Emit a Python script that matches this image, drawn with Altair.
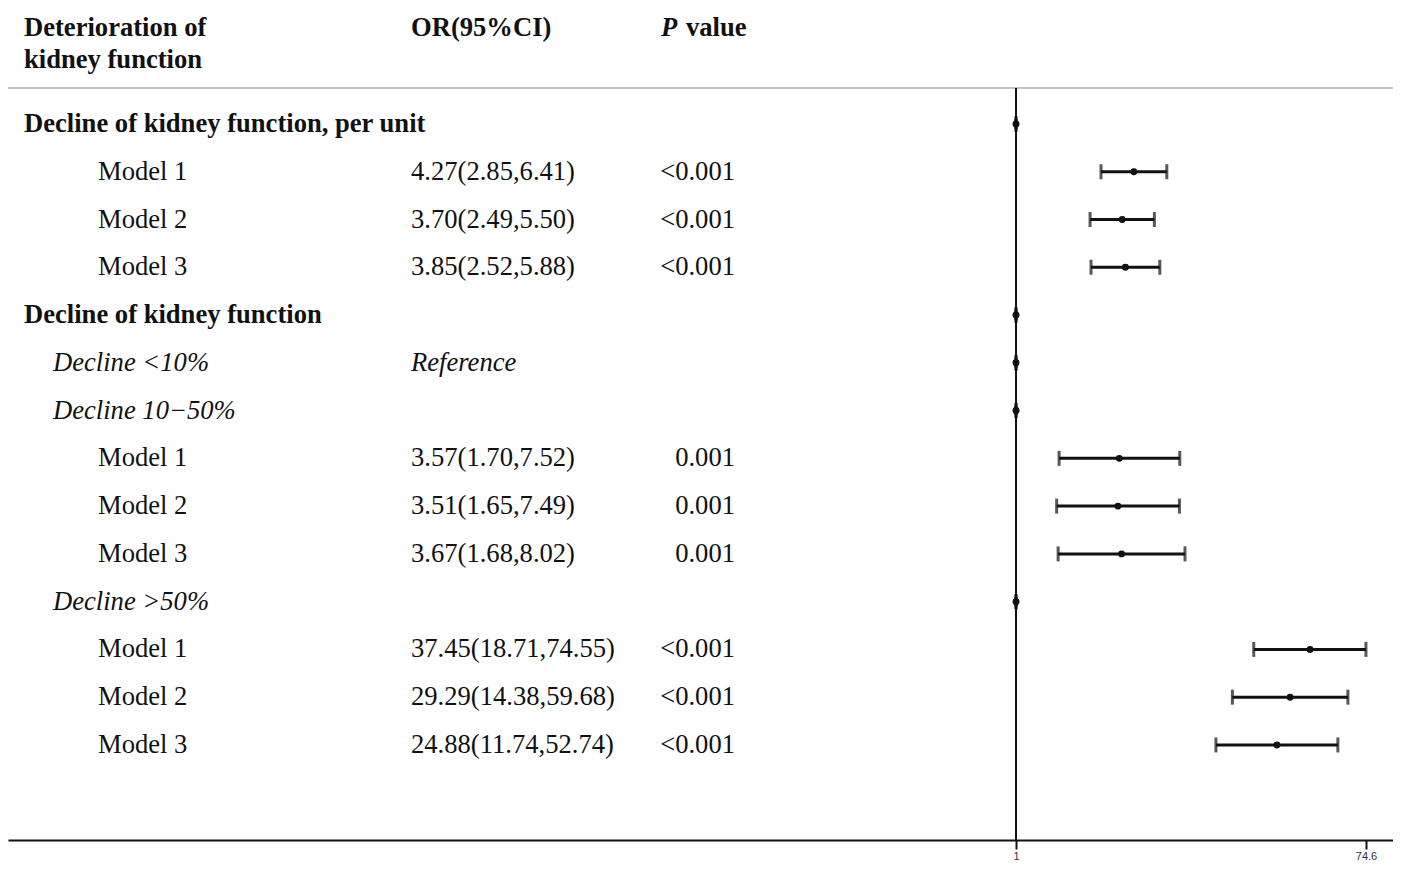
import altair as alt
import pandas as pd

# ---- data ----
labels = [
    "Decline of kidney function, per unit", "Model 1", "Model 2", "Model 3",
    "Decline of kidney function", "Decline <10%", "Decline 10\u221250%",
    "Model 1", "Model 2", "Model 3", "Decline >50%",
    "Model 1", "Model 2", "Model 3",
]
levels = [0, 2, 2, 2, 0, 1, 1, 2, 2, 2, 1, 2, 2, 2]
or_text = [
    "", "4.27(2.85,6.41)", "3.70(2.49,5.50)", "3.85(2.52,5.88)",
    "", "Reference", "",
    "3.57(1.70,7.52)", "3.51(1.65,7.49)", "3.67(1.68,8.02)",
    "", "37.45(18.71,74.55)", "29.29(14.38,59.68)", "24.88(11.74,52.74)",
]
p_text = ["", "<0.001", "<0.001", "<0.001", "", "", "",
          "0.001", "0.001", "0.001", "", "<0.001", "<0.001", "<0.001"]
or_val = [1, 4.27, 3.70, 3.85, 1, 1, 1, 3.57, 3.51, 3.67, 1, 37.45, 29.29, 24.88]
ci_low = [1, 2.85, 2.49, 2.52, 1, 1, 1, 1.70, 1.65, 1.68, 1, 18.71, 14.38, 11.74]
ci_high = [1, 6.41, 5.50, 5.88, 1, 1, 1, 7.52, 7.49, 8.02, 1, 74.55, 59.68, 52.74]

header_left = ["Deterioration of", "kidney function"]
header_rows = [-2.01, -1.34]
header_or = ["OR(95%CI)"]
header_p_italic = ["P"]
header_p_rest = ["value"]
axis_ticks = [1, 74.6]

# layout of the row scale (row index units)
top_row = -2.428
separator_row = -0.754
bottom_row = 14.99

W, H = 1385, 832
FONT = "Liberation Serif"
FS = 26.6
INK = "#111111"

df = pd.DataFrame({
    "row": list(range(len(labels))),
    "label": labels,
    "level": levels,
    "or_text": or_text,
    "p_text": p_text,
    "or": or_val,
    "lo": ci_low,
    "hi": ci_high,
})
hdr = pd.DataFrame({"row": header_rows, "text": header_left})
hdr1 = pd.DataFrame({"row": [header_rows[0]], "or_h": header_or,
                     "p1": header_p_italic, "p2": header_p_rest})

yscale = alt.Scale(domain=[top_row, bottom_row], reverse=True, nice=False, zero=False)
xscale = alt.Scale(type="log", domain=[4.04e-6, 104.03], nice=False)
Y = alt.Y("row:Q", scale=yscale, axis=None)

base = alt.Chart(df)


def txt(data, **kw):
    return alt.Chart(data).mark_text(font=FONT, fontSize=FS, color=INK,
                                     baseline="middle", **kw)


lab0 = txt(df, align="left", fontWeight="bold").transform_filter("datum.level == 0").encode(
    x=alt.value(16), y=Y, text="label:N")
lab1 = txt(df, align="left", fontStyle="italic").transform_filter("datum.level == 1").encode(
    x=alt.value(45), y=Y, text="label:N")
lab2 = txt(df, align="left").transform_filter("datum.level == 2").encode(
    x=alt.value(90), y=Y, text="label:N")
or_norm = txt(df, align="left").transform_filter("datum.or_text != 'Reference'").encode(
    x=alt.value(403), y=Y, text="or_text:N")
or_ref = txt(df, align="left", fontStyle="italic").transform_filter("datum.or_text == 'Reference'").encode(
    x=alt.value(403), y=Y, text="or_text:N")
p_col = txt(df, align="right").encode(x=alt.value(727), y=Y, text="p_text:N")

h_left = txt(hdr, align="left", fontWeight="bold").encode(x=alt.value(16), y=Y, text="text:N")
h_or = txt(hdr1, align="left", fontWeight="bold").encode(x=alt.value(403), y=Y, text="or_h:N")
h_p1 = txt(hdr1, align="left", fontWeight="bold", fontStyle="italic").encode(
    x=alt.value(653), y=Y, text="p1:N")
h_p2 = txt(hdr1, align="left", fontWeight="bold").encode(x=alt.value(678), y=Y, text="p2:N")

sep = alt.Chart(pd.DataFrame({"row": [separator_row]})).mark_rule(
    color="#c4c4c4", strokeWidth=2).encode(y=Y, x=alt.value(0), x2=alt.value(W))

xaxis = alt.Axis(values=axis_ticks, format=".3~g", title=None, grid=False,
                 domainColor="#111111", domainWidth=2, tickColor="#111111",
                 tickWidth=2, tickSize=9, labelFont="Liberation Sans",
                 labelFontSize=11, labelColor="#333333", labelPadding=1,
                 labelFlush=False)

ref = alt.Chart(pd.DataFrame({"x": [1], "row": [separator_row], "row2": [bottom_row]})).mark_rule(
    color="#111111", strokeWidth=2).encode(
    x=alt.X("x:Q", scale=xscale, axis=xaxis), y=Y, y2="row2:Q")

ci = base.mark_rule(color="#111111", strokeWidth=3).encode(
    x=alt.X("lo:Q", scale=xscale), x2="hi:Q", y=Y)
cap_lo = base.mark_tick(orient="vertical", color="#111111", thickness=3, size=15).encode(
    x=alt.X("lo:Q", scale=xscale), y=Y)
cap_hi = base.mark_tick(orient="vertical", color="#111111", thickness=3, size=15).encode(
    x=alt.X("hi:Q", scale=xscale), y=Y)
pt = base.mark_circle(color="#111111", opacity=1, size=48).encode(
    x=alt.X("or:Q", scale=xscale), y=Y)
flat = base.transform_filter("datum.lo == datum.hi").mark_point(
    shape="M0,-1L0.42,0L0,1L-0.42,0Z", filled=True, color="#111111", opacity=1, size=230).encode(
    x=alt.X("or:Q", scale=xscale), y=Y)

chart = alt.layer(
    sep, ref, ci, cap_lo, cap_hi, pt, flat,
    h_left, h_or, h_p1, h_p2,
    lab0, lab1, lab2, or_norm, or_ref, p_col,
).properties(
    width=W, height=H,
    padding={"left": 0, "top": 0, "right": 0, "bottom": 23},
    autosize=alt.AutoSizeParams(type="none"),
).configure_view(stroke=None)

chart.save("out.html", embed_options={"renderer": "svg", "actions": False})
